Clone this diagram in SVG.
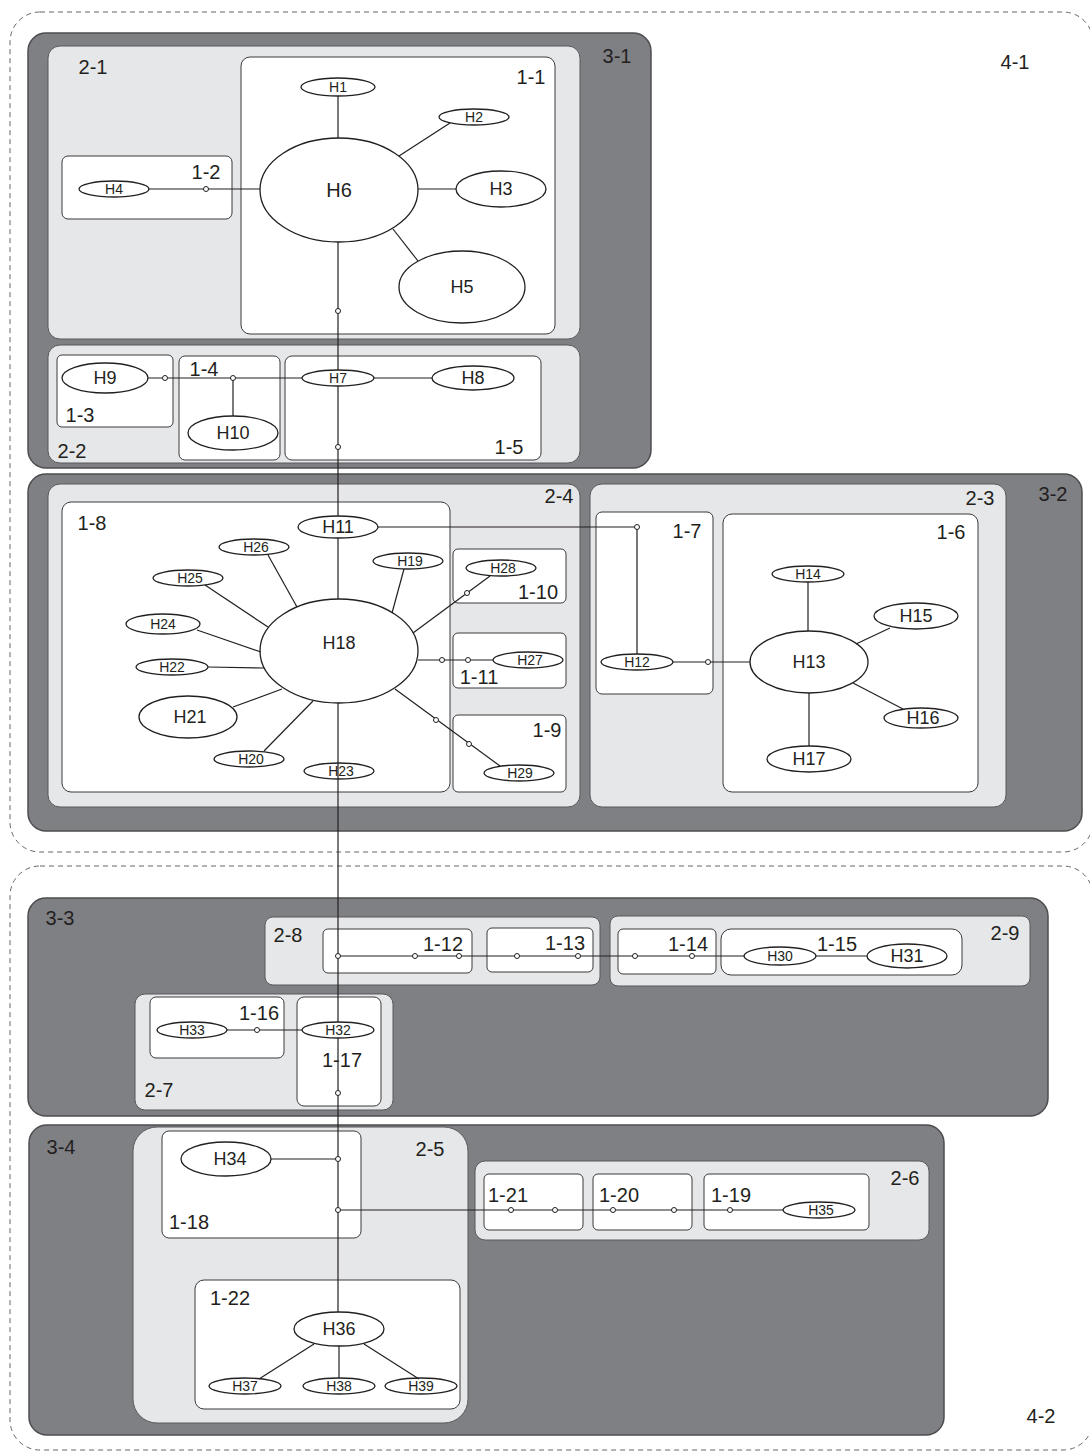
<svg xmlns="http://www.w3.org/2000/svg" width="1090" height="1454" viewBox="0 0 1090 1454">
<style>
.l4{fill:none;stroke:#666;stroke-width:1;stroke-dasharray:5 4}
.l3{fill:#7f8084;stroke:#4d4d4f;stroke-width:1.5}
.l2{fill:#e6e7e8;stroke:#58595b;stroke-width:1}
.l1{fill:#fff;stroke:#3a3a3c;stroke-width:1}
text{font-family:"Liberation Sans",Arial,sans-serif;fill:#231f20;text-anchor:middle}
.lab{font-size:20px}
.n ellipse{fill:#fff;stroke:#231f20;stroke-width:1.3}
.s{font-size:14px}
.m{font-size:18px}
.b{font-size:20px}
#connectors line,#connectors polyline{stroke:#231f20;stroke-width:1.2;fill:none}
#connectors circle{fill:#fff;stroke:#231f20;stroke-width:1}
</style>
<rect width="1090" height="1454" fill="#fff"/>

<!-- level 4 -->
<g id="c4-1"><rect class="l4" x="10" y="12" width="1083" height="840" rx="30"/><text class="lab" x="1015" y="69">4-1</text></g>
<g id="c4-2"><rect class="l4" x="10" y="866" width="1083" height="584" rx="30"/><text class="lab" x="1041" y="1423">4-2</text></g>

<!-- level 3 -->
<g id="c3-1"><rect class="l3" x="28" y="33" width="623" height="435" rx="18"/><text class="lab" x="617" y="63">3-1</text></g>
<g id="c3-2"><rect class="l3" x="28" y="474" width="1054" height="357" rx="18"/><text class="lab" x="1053" y="501">3-2</text></g>
<g id="c3-3"><rect class="l3" x="28" y="898" width="1020" height="218" rx="18"/><text class="lab" x="60" y="925">3-3</text></g>
<g id="c3-4"><rect class="l3" x="29" y="1125" width="915" height="310" rx="18"/><text class="lab" x="61" y="1154">3-4</text></g>

<!-- level 2 -->
<g id="c2-1"><rect class="l2" x="48" y="46" width="532" height="293" rx="12"/><text class="lab" x="93" y="74">2-1</text></g>
<g id="c2-2"><rect class="l2" x="48" y="345" width="532" height="118" rx="12"/><text class="lab" x="72" y="458">2-2</text></g>
<g id="c2-4"><rect class="l2" x="48" y="484" width="532" height="323" rx="12"/><text class="lab" x="559" y="503">2-4</text></g>
<g id="c2-3"><rect class="l2" x="590" y="484" width="416" height="323" rx="12"/><text class="lab" x="980" y="505">2-3</text></g>
<g id="c2-8"><rect class="l2" x="265" y="917" width="335" height="68" rx="8"/><text class="lab" x="288" y="942">2-8</text></g>
<g id="c2-9"><rect class="l2" x="610" y="916" width="420" height="70" rx="8"/><text class="lab" x="1005" y="940">2-9</text></g>
<g id="c2-7"><rect class="l2" x="135" y="994" width="258" height="116" rx="10"/><text class="lab" x="159" y="1097">2-7</text></g>
<g id="c2-5"><rect class="l2" x="133" y="1127" width="335" height="296" rx="24"/><text class="lab" x="430" y="1156">2-5</text></g>
<g id="c2-6"><rect class="l2" x="475" y="1161" width="454" height="79" rx="10"/><text class="lab" x="905" y="1185">2-6</text></g>

<!-- level 1 -->
<g id="c1-1"><rect class="l1" x="241" y="57" width="314" height="277" rx="9"/><text class="lab" x="531" y="84">1-1</text></g>
<g id="c1-2"><rect class="l1" x="62" y="156" width="170" height="63" rx="6"/><text class="lab" x="206" y="179">1-2</text></g>
<g id="c1-3"><rect class="l1" x="57" y="355" width="116" height="72" rx="5"/><text class="lab" x="80" y="422">1-3</text></g>
<g id="c1-4"><rect class="l1" x="179" y="356" width="101" height="104" rx="6"/><text class="lab" x="204" y="376">1-4</text></g>
<g id="c1-5"><rect class="l1" x="285" y="356" width="256" height="104" rx="7"/><text class="lab" x="509" y="454">1-5</text></g>
<g id="c1-8"><rect class="l1" x="62" y="502" width="388" height="290" rx="9"/><text class="lab" x="92" y="530">1-8</text></g>
<g id="c1-10"><rect class="l1" x="453" y="549" width="113" height="54" rx="5"/><text class="lab" x="538" y="599">1-10</text></g>
<g id="c1-11"><rect class="l1" x="453" y="633" width="113" height="55" rx="5"/><text class="lab" x="479" y="684">1-11</text></g>
<g id="c1-9"><rect class="l1" x="453" y="715" width="113" height="77" rx="5"/><text class="lab" x="547" y="737">1-9</text></g>
<g id="c1-7"><rect class="l1" x="596" y="512" width="117" height="182" rx="6"/><text class="lab" x="687" y="538">1-7</text></g>
<g id="c1-6"><rect class="l1" x="723" y="514" width="255" height="278" rx="9"/><text class="lab" x="951" y="539">1-6</text></g>
<g id="c1-12"><rect class="l1" x="323" y="929" width="149" height="44" rx="5"/><text class="lab" x="443" y="951">1-12</text></g>
<g id="c1-13"><rect class="l1" x="487" y="928" width="106" height="44" rx="5"/><text class="lab" x="565" y="950">1-13</text></g>
<g id="c1-14"><rect class="l1" x="618" y="929" width="98" height="45" rx="5"/><text class="lab" x="688" y="951">1-14</text></g>
<g id="c1-15"><rect class="l1" x="721" y="929" width="241" height="46" rx="10"/><text class="lab" x="837" y="951">1-15</text></g>
<g id="c1-16"><rect class="l1" x="150" y="997" width="134" height="61" rx="6"/><text class="lab" x="259" y="1020">1-16</text></g>
<g id="c1-17"><rect class="l1" x="297" y="997" width="84" height="109" rx="7"/><text class="lab" x="342" y="1067">1-17</text></g>
<g id="c1-18"><rect class="l1" x="162" y="1131" width="199" height="107" rx="7"/><text class="lab" x="189" y="1229">1-18</text></g>
<g id="c1-22"><rect class="l1" x="195" y="1280" width="265" height="129" rx="9"/><text class="lab" x="230" y="1305">1-22</text></g>
<g id="c1-21"><rect class="l1" x="484" y="1174" width="99" height="56" rx="5"/><text class="lab" x="508" y="1202">1-21</text></g>
<g id="c1-20"><rect class="l1" x="593" y="1174" width="99" height="56" rx="5"/><text class="lab" x="619" y="1202">1-20</text></g>
<g id="c1-19"><rect class="l1" x="704" y="1174" width="165" height="56" rx="5"/><text class="lab" x="731" y="1202">1-19</text></g>

<!-- haplotype nodes -->
<g id="H1" class="n"><ellipse cx="338" cy="87" rx="37" ry="9"/><text class="s" x="338" y="92">H1</text></g>
<g id="H2" class="n"><ellipse cx="474" cy="117" rx="35" ry="8"/><text class="s" x="474" y="122">H2</text></g>
<g id="H3" class="n"><ellipse cx="501" cy="189" rx="45" ry="18"/><text class="m" x="501" y="195">H3</text></g>
<g id="H4" class="n"><ellipse cx="114" cy="189" rx="35" ry="8"/><text class="s" x="114" y="194">H4</text></g>
<g id="H5" class="n"><ellipse cx="462" cy="287" rx="63" ry="36"/><text class="m" x="462" y="293">H5</text></g>
<g id="H6" class="n"><ellipse cx="339" cy="190" rx="79" ry="52"/><text class="b" x="339" y="197">H6</text></g>
<g id="H7" class="n"><ellipse cx="338" cy="378" rx="36" ry="8"/><text class="s" x="338" y="383">H7</text></g>
<g id="H8" class="n"><ellipse cx="473" cy="378" rx="41" ry="12"/><text class="m" x="473" y="384">H8</text></g>
<g id="H9" class="n"><ellipse cx="105" cy="378" rx="43" ry="15"/><text class="m" x="105" y="384">H9</text></g>
<g id="H10" class="n"><ellipse cx="233" cy="433" rx="45" ry="17"/><text class="m" x="233" y="439">H10</text></g>
<g id="H11" class="n"><ellipse cx="338" cy="527" rx="40" ry="11"/><text class="m" x="338" y="533">H11</text></g>
<g id="H12" class="n"><ellipse cx="637" cy="662" rx="36" ry="8"/><text class="s" x="637" y="667">H12</text></g>
<g id="H13" class="n"><ellipse cx="809" cy="662" rx="59" ry="31"/><text class="m" x="809" y="668">H13</text></g>
<g id="H14" class="n"><ellipse cx="808" cy="574" rx="36" ry="8"/><text class="s" x="808" y="579">H14</text></g>
<g id="H15" class="n"><ellipse cx="916" cy="616" rx="42" ry="13"/><text class="m" x="916" y="622">H15</text></g>
<g id="H16" class="n"><ellipse cx="921" cy="718" rx="37" ry="10"/><text class="m" x="923" y="724">H16</text></g>
<g id="H17" class="n"><ellipse cx="809" cy="759" rx="42" ry="13"/><text class="m" x="809" y="765">H17</text></g>
<g id="H18" class="n"><ellipse cx="339" cy="651" rx="79" ry="52"/><text class="m" x="339" y="649">H18</text></g>
<g id="H19" class="n"><ellipse cx="408" cy="561" rx="35" ry="8"/><text class="s" x="410" y="566">H19</text></g>
<g id="H20" class="n"><ellipse cx="249" cy="759" rx="35" ry="8"/><text class="s" x="251" y="764">H20</text></g>
<g id="H21" class="n"><ellipse cx="188" cy="717" rx="49" ry="21"/><text class="m" x="190" y="723">H21</text></g>
<g id="H22" class="n"><ellipse cx="172" cy="667" rx="36" ry="8"/><text class="s" x="172" y="672">H22</text></g>
<g id="H23" class="n"><ellipse cx="339" cy="771" rx="35" ry="8"/><text class="s" x="341" y="776">H23</text></g>
<g id="H24" class="n"><ellipse cx="163" cy="624" rx="37" ry="10"/><text class="s" x="163" y="629">H24</text></g>
<g id="H25" class="n"><ellipse cx="188" cy="578" rx="35" ry="8"/><text class="s" x="190" y="583">H25</text></g>
<g id="H26" class="n"><ellipse cx="254" cy="547" rx="35" ry="8"/><text class="s" x="256" y="552">H26</text></g>
<g id="H27" class="n"><ellipse cx="528" cy="660" rx="35" ry="8"/><text class="s" x="530" y="665">H27</text></g>
<g id="H28" class="n"><ellipse cx="501" cy="568" rx="35" ry="8"/><text class="s" x="503" y="573">H28</text></g>
<g id="H29" class="n"><ellipse cx="519" cy="773" rx="35" ry="8"/><text class="s" x="520" y="778">H29</text></g>
<g id="H30" class="n"><ellipse cx="780" cy="956" rx="36" ry="9"/><text class="s" x="780" y="961">H30</text></g>
<g id="H31" class="n"><ellipse cx="907" cy="956" rx="40" ry="12"/><text class="m" x="907" y="962">H31</text></g>
<g id="H32" class="n"><ellipse cx="338" cy="1030" rx="36" ry="8"/><text class="s" x="338" y="1035">H32</text></g>
<g id="H33" class="n"><ellipse cx="192" cy="1030" rx="35" ry="8"/><text class="s" x="192" y="1035">H33</text></g>
<g id="H34" class="n"><ellipse cx="226" cy="1159" rx="45" ry="17"/><text class="m" x="230" y="1165">H34</text></g>
<g id="H35" class="n"><ellipse cx="819" cy="1210" rx="36" ry="8"/><text class="s" x="821" y="1215">H35</text></g>
<g id="H36" class="n"><ellipse cx="339" cy="1329" rx="45" ry="17"/><text class="m" x="339" y="1335">H36</text></g>
<g id="H37" class="n"><ellipse cx="245" cy="1386" rx="36" ry="8"/><text class="s" x="245" y="1391">H37</text></g>
<g id="H38" class="n"><ellipse cx="339" cy="1386" rx="36" ry="8"/><text class="s" x="339" y="1391">H38</text></g>
<g id="H39" class="n"><ellipse cx="421" cy="1386" rx="36" ry="8"/><text class="s" x="421" y="1391">H39</text></g>

<!-- connectors -->
<g id="connectors">
<line x1="338" y1="96" x2="338" y2="138"/>
<line x1="450" y1="123" x2="399" y2="156"/>
<line x1="418" y1="189" x2="456" y2="189"/>
<line x1="393" y1="229" x2="418" y2="261"/>
<line x1="149" y1="189" x2="260" y2="189"/>
<line x1="338" y1="242" x2="338" y2="370"/>
<line x1="338" y1="386" x2="338" y2="516"/>
<line x1="148" y1="378" x2="302" y2="378"/>
<line x1="233" y1="378" x2="233" y2="416"/>
<line x1="374" y1="378" x2="432" y2="378"/>
<line x1="338" y1="538" x2="338" y2="599"/>
<polyline points="378,527 637,527 637,654"/>
<line x1="673" y1="662" x2="750" y2="662"/>
<line x1="808" y1="582" x2="808" y2="631"/>
<line x1="890" y1="628" x2="856" y2="644"/>
<line x1="903" y1="709" x2="853" y2="683"/>
<line x1="809" y1="693" x2="809" y2="746"/>
<line x1="268" y1="555" x2="297" y2="607"/>
<line x1="205" y1="585" x2="268" y2="627"/>
<line x1="197" y1="630" x2="261" y2="652"/>
<line x1="208" y1="667" x2="264" y2="668"/>
<line x1="233" y1="707" x2="282" y2="689"/>
<line x1="264" y1="751" x2="313" y2="701"/>
<line x1="404" y1="569" x2="392" y2="613"/>
<line x1="413" y1="633" x2="490" y2="576"/>
<line x1="418" y1="660" x2="493" y2="660"/>
<line x1="395" y1="689" x2="500" y2="766"/>
<line x1="338" y1="703" x2="338" y2="1022"/>
<line x1="338" y1="1038" x2="338" y2="1312"/>
<polyline points="338,956 744,956"/>
<line x1="816" y1="956" x2="867" y2="956"/>
<line x1="227" y1="1030" x2="302" y2="1030"/>
<line x1="271" y1="1159" x2="338" y2="1159"/>
<line x1="338" y1="1210" x2="783" y2="1210"/>
<line x1="314" y1="1344" x2="259" y2="1379"/>
<line x1="339" y1="1346" x2="339" y2="1378"/>
<line x1="364" y1="1344" x2="419" y2="1379"/>
<circle cx="206" cy="189" r="2.5"/>
<circle cx="338" cy="311" r="2.5"/>
<circle cx="165" cy="378" r="2.5"/>
<circle cx="233" cy="378" r="2.5"/>
<circle cx="338" cy="447" r="2.5"/>
<circle cx="637" cy="527" r="2.5"/>
<circle cx="708" cy="662" r="2.5"/>
<circle cx="467" cy="593" r="2.5"/>
<circle cx="442" cy="660" r="2.5"/>
<circle cx="468" cy="660" r="2.5"/>
<circle cx="436" cy="720" r="2.5"/>
<circle cx="469" cy="744" r="2.5"/>
<circle cx="338" cy="956" r="2.5"/>
<circle cx="415" cy="956" r="2.5"/>
<circle cx="459" cy="956" r="2.5"/>
<circle cx="517" cy="956" r="2.5"/>
<circle cx="578" cy="956" r="2.5"/>
<circle cx="635" cy="956" r="2.5"/>
<circle cx="692" cy="956" r="2.5"/>
<circle cx="257" cy="1030" r="2.5"/>
<circle cx="338" cy="1093" r="2.5"/>
<circle cx="338" cy="1159" r="2.5"/>
<circle cx="338" cy="1210" r="2.5"/>
<circle cx="511" cy="1210" r="2.5"/>
<circle cx="555" cy="1210" r="2.5"/>
<circle cx="613" cy="1210" r="2.5"/>
<circle cx="674" cy="1210" r="2.5"/>
<circle cx="730" cy="1210" r="2.5"/>
</g>
</svg>
